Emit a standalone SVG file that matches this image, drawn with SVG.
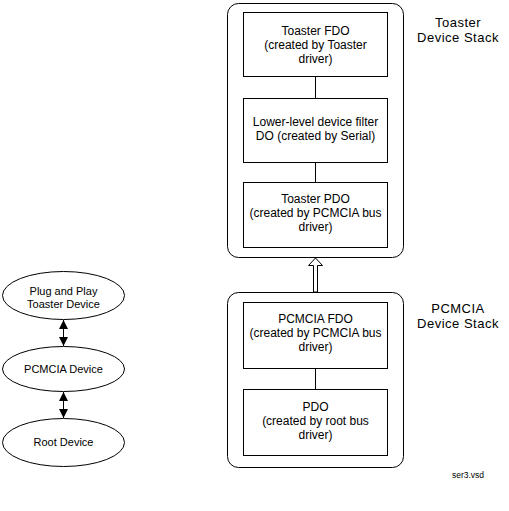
<svg xmlns="http://www.w3.org/2000/svg" width="509" height="511" viewBox="0 0 509 511">
<defs>
<style>
.stack{fill:#fff;stroke:#000;stroke-width:1}
.box{fill:#fff;stroke:#000;stroke-width:1}
.ell{fill:#fff;stroke:#000;stroke-width:1}
.t{font-family:"Liberation Sans",Arial,sans-serif;font-size:12px;fill:#000;text-anchor:middle}
.te{font-family:"Liberation Sans",Arial,sans-serif;font-size:11px;fill:#000;text-anchor:middle}
.tl{font-family:"Liberation Sans",Arial,sans-serif;font-size:13px;fill:#000;text-anchor:middle;letter-spacing:0.5px}
.ts{font-family:"Liberation Sans",Arial,sans-serif;font-size:8.5px;fill:#000;text-anchor:middle}
.ln{stroke:#000;stroke-width:1;fill:none}
</style>
<marker id="ah" viewBox="0 0 10 10" refX="10" refY="5" markerWidth="9" markerHeight="9" orient="auto-start-reverse" markerUnits="userSpaceOnUse">
<path d="M0,0 L10,5 L0,10 z" fill="#000"/>
</marker>
</defs>
<rect width="509" height="511" fill="#fff"/>
<g id="toaster-stack">
<rect class="stack" x="227.5" y="3.5" width="176" height="254" rx="11" ry="11"/>
<text class="tl" x="458" y="27">Toaster</text>
<text class="tl" x="458" y="42">Device Stack</text>
</g>
<g id="pcmcia-stack">
<rect class="stack" x="227.5" y="292.5" width="176" height="175" rx="11" ry="11"/>
<text class="tl" x="458" y="313">PCMCIA</text>
<text class="tl" x="458" y="328">Device Stack</text>
</g>
<g id="connectors">
<line class="ln" x1="315.5" y1="76" x2="315.5" y2="98"/>
<line class="ln" x1="315.5" y1="162" x2="315.5" y2="182"/>
<line class="ln" x1="315.5" y1="368" x2="315.5" y2="389"/>
<polygon points="315.5,258 322.5,265.5 317.5,265.5 317.5,292 313.5,292 313.5,265.5 308.5,265.5" fill="#fff" stroke="#000" stroke-width="1"/>
<line class="ln" x1="63.5" y1="320" x2="63.5" y2="346" marker-start="url(#ah)" marker-end="url(#ah)"/>
<line class="ln" x1="63.5" y1="392" x2="63.5" y2="418" marker-start="url(#ah)" marker-end="url(#ah)"/>
</g>
<g id="toaster-fdo">
<rect class="box" x="243.5" y="12.5" width="144" height="64"/>
<text class="t" x="315.5" y="35">Toaster FDO</text>
<text class="t" x="315.5" y="49">(created by Toaster</text>
<text class="t" x="315.5" y="63">driver)</text>
</g>
<g id="filter-do">
<rect class="box" x="243.5" y="98.5" width="144" height="64"/>
<text class="t" x="315.5" y="126">Lower-level device filter</text>
<text class="t" x="315.5" y="140">DO (created by Serial)</text>
</g>
<g id="toaster-pdo">
<rect class="box" x="243.5" y="182.5" width="144" height="65"/>
<text class="t" x="315.5" y="203">Toaster PDO</text>
<text class="t" x="315.5" y="217">(created by PCMCIA bus</text>
<text class="t" x="315.5" y="231">driver)</text>
</g>
<g id="pcmcia-fdo">
<rect class="box" x="243.5" y="302.5" width="144" height="66"/>
<text class="t" x="315.5" y="323">PCMCIA FDO</text>
<text class="t" x="315.5" y="337">(created by PCMCIA bus</text>
<text class="t" x="315.5" y="351">driver)</text>
</g>
<g id="pdo">
<rect class="box" x="243.5" y="389.5" width="144" height="66"/>
<text class="t" x="315.5" y="411">PDO</text>
<text class="t" x="315.5" y="425">(created by root bus</text>
<text class="t" x="315.5" y="439">driver)</text>
</g>
<g id="pnp-toaster-device">
<ellipse class="ell" cx="63.5" cy="295.5" rx="61" ry="24"/>
<text class="te" x="63.5" y="295">Plug and Play</text>
<text class="te" x="63.5" y="308">Toaster Device</text>
</g>
<g id="pcmcia-device">
<ellipse class="ell" cx="63.5" cy="369" rx="61" ry="22.5"/>
<text class="te" x="63.5" y="373">PCMCIA Device</text>
</g>
<g id="root-device">
<ellipse class="ell" cx="63.5" cy="442.5" rx="61" ry="24"/>
<text class="te" x="63.5" y="446">Root Device</text>
</g>
<text class="ts" x="468" y="478">ser3.vsd</text>
</svg>
